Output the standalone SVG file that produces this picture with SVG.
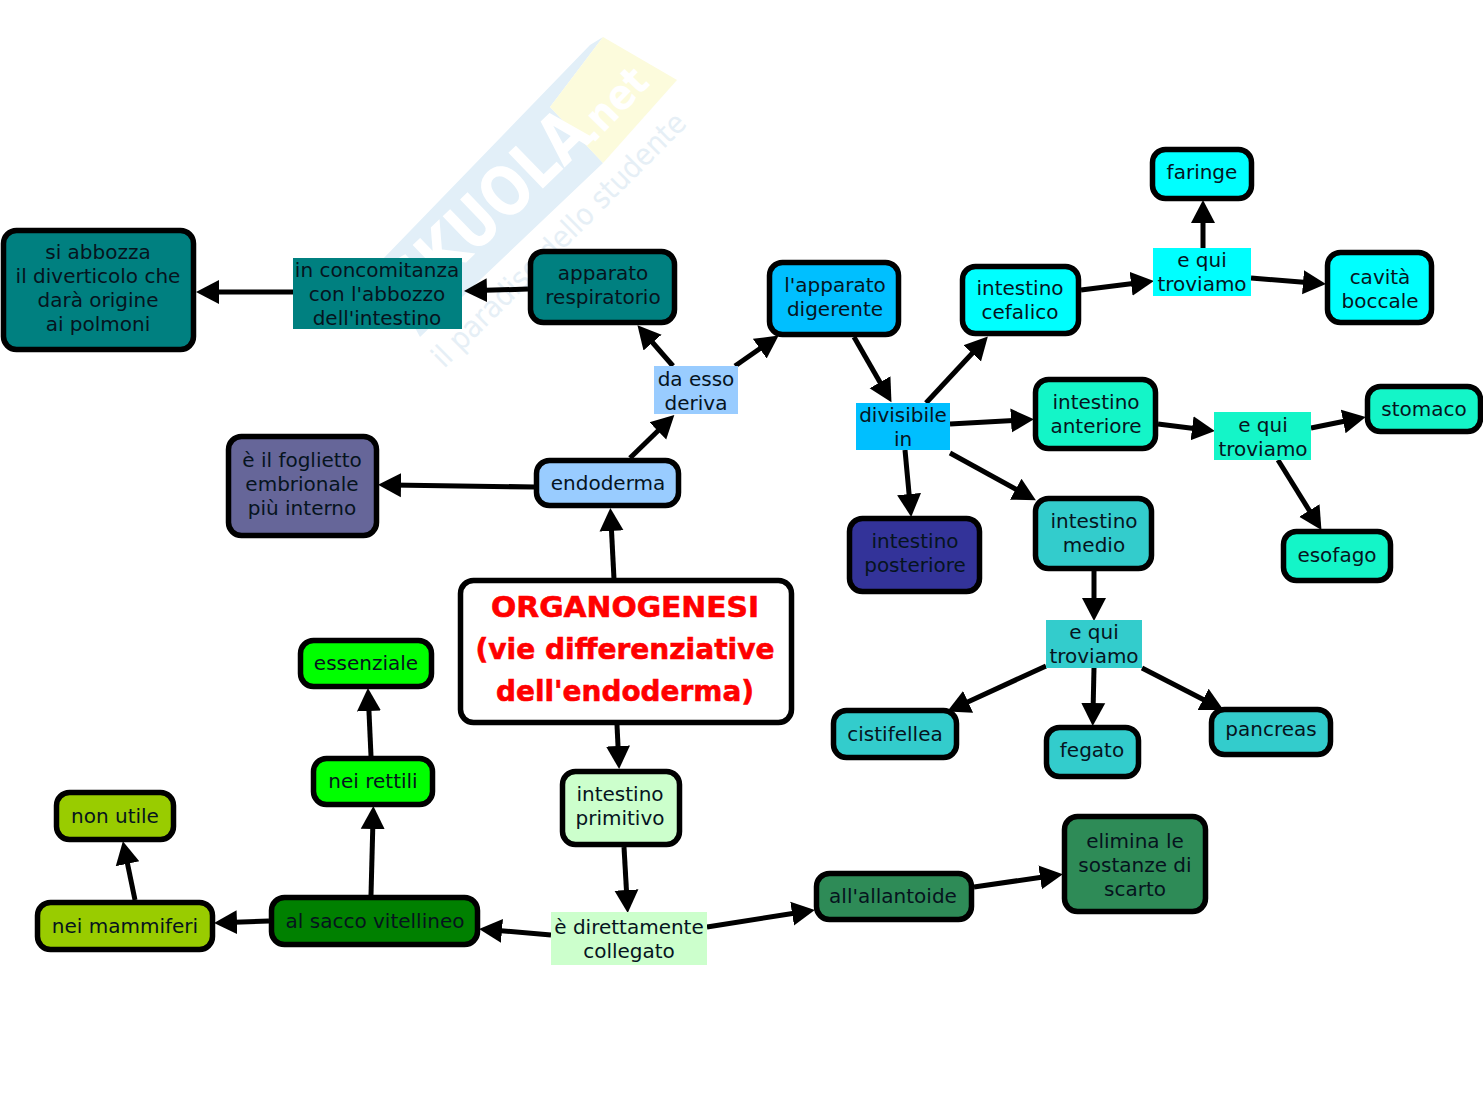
<svg xmlns="http://www.w3.org/2000/svg" width="1483" height="1116" viewBox="0 0 1483 1116">
<style>
.n{stroke:#000;stroke-width:5.5}
.l{stroke:none}
text{font-family:"DejaVu Sans","Liberation Sans",sans-serif;font-size:20px;fill:#06141e;text-anchor:middle}
.t{font-size:28px;font-weight:bold;fill:#f00;stroke:#f00;stroke-width:.6}
.c line{stroke:#000;stroke-width:5;marker-end:url(#a)}
.teal{fill:#008080}.deep{fill:#00bfff}.cy{fill:#0ff}.sb{fill:#9cf}.aq{fill:#14f5c8}.md{fill:#3cc}.pu{fill:#669}.nv{fill:#339;}.w{fill:#fff}.lg{fill:#0f0}.pg{fill:#cfc}.ol{fill:#9c0}.gr{fill:#008000}.sg{fill:#2e8b57}
</style>
<defs>
<marker id="a" markerUnits="userSpaceOnUse" markerWidth="26" markerHeight="28" refX="10" refY="13" orient="auto"><path d="M0 1L23 13L0 25Z" fill="#000"/></marker>
</defs>
<rect width="1483" height="1116" fill="#fff"/>
<g id="watermark">
<polygon points="380,262 590,45 603,37 550,107 603,163 420,337" fill="#e2eff8"/>
<polygon points="550,107 603,37 677,80 603,163" fill="#fcfbdc"/>
<text transform="translate(505,225) rotate(-44)" textLength="250" lengthAdjust="spacingAndGlyphs" style="font-size:68px;font-weight:bold;fill:#fff">SKUOLA</text>
<text transform="translate(622,114) rotate(-46)" textLength="84" lengthAdjust="spacingAndGlyphs" style="font-size:42px;font-weight:bold;fill:#fff">.net</text>
<text transform="translate(566,247) rotate(-45)" textLength="345" lengthAdjust="spacingAndGlyphs" style="font-size:30px;fill:#e6eff6">il paradiso dello studente</text>
</g>
<g id="connectors" class="c">
<line x1="293" y1="292" x2="209" y2="292"/>
<line x1="528" y1="289" x2="477" y2="290.6"/>
<line x1="673" y1="366" x2="646" y2="335"/>
<line x1="735" y1="366" x2="768" y2="343"/>
<line x1="630" y1="458" x2="665" y2="424"/>
<line x1="535" y1="487" x2="391" y2="485"/>
<line x1="614" y1="579" x2="611" y2="521"/>
<line x1="617" y1="725" x2="618.5" y2="756"/>
<line x1="624" y1="847" x2="627" y2="900"/>
<line x1="707" y1="927" x2="802" y2="912"/>
<line x1="974" y1="887" x2="1050" y2="876"/>
<line x1="551" y1="935" x2="492" y2="930"/>
<line x1="269" y1="921" x2="227" y2="922.5"/>
<line x1="371" y1="895" x2="373" y2="819"/>
<line x1="135" y1="900" x2="125.5" y2="854"/>
<line x1="371" y1="756" x2="368.5" y2="701"/>
<line x1="854" y1="337" x2="885" y2="391"/>
<line x1="926" y1="403" x2="979" y2="346"/>
<line x1="950" y1="424" x2="1021" y2="420"/>
<line x1="950" y1="453" x2="1024.5" y2="494"/>
<line x1="905" y1="450" x2="910" y2="504"/>
<line x1="1081" y1="290" x2="1141" y2="282.5"/>
<line x1="1203" y1="248" x2="1203" y2="213"/>
<line x1="1251" y1="278" x2="1313" y2="283"/>
<line x1="1158" y1="424" x2="1202" y2="429.5"/>
<line x1="1311" y1="428" x2="1353" y2="419.5"/>
<line x1="1278" y1="460" x2="1314.6" y2="519"/>
<line x1="1094" y1="571" x2="1094" y2="608"/>
<line x1="1046" y1="666" x2="959" y2="706"/>
<line x1="1094" y1="668" x2="1093" y2="713"/>
<line x1="1142" y1="668" x2="1212" y2="704"/>
</g>
<g id="n1"><rect class="n teal" x="3.5" y="230.5" width="190" height="119" rx="13"/><text x="98" y="259">si abbozza</text><text x="98" y="283">il diverticolo che</text><text x="98" y="307">darà origine</text><text x="98" y="331">ai polmoni</text></g>
<g id="n2"><rect class="l teal" x="293" y="258" width="169" height="71"/><text x="377" y="277">in concomitanza</text><text x="377" y="301">con l'abbozzo</text><text x="377" y="325">dell'intestino</text></g>
<g id="n3"><rect class="n teal" x="530.5" y="251.5" width="144" height="71" rx="13"/><text x="603" y="280">apparato</text><text x="603" y="304">respiratorio</text></g>
<g id="n4"><rect class="n deep" x="769.5" y="262.5" width="129" height="72" rx="13"/><text x="835" y="292">l'apparato</text><text x="835" y="316">digerente</text></g>
<g id="n5"><rect class="n cy" x="962.5" y="266.5" width="116" height="67" rx="13"/><text x="1020" y="295">intestino</text><text x="1020" y="319">cefalico</text></g>
<g id="n6"><rect class="l cy" x="1153" y="248" width="98" height="48"/><text x="1202" y="267">e qui</text><text x="1202" y="291">troviamo</text></g>
<g id="n7"><rect class="n cy" x="1152.5" y="149.5" width="99" height="49" rx="13"/><text x="1202" y="179">faringe</text></g>
<g id="n8"><rect class="n cy" x="1327.5" y="252.5" width="104" height="70" rx="13"/><text x="1380" y="284">cavità</text><text x="1380" y="308">boccale</text></g>
<g id="n9"><rect class="l sb" x="654" y="366" width="84" height="48"/><text x="696" y="386">da esso</text><text x="696" y="410">deriva</text></g>
<g id="n10"><rect class="l deep" x="856" y="403" width="94" height="47"/><text x="903" y="422">divisibile</text><text x="903" y="446">in</text></g>
<g id="n11"><rect class="n aq" x="1035.5" y="379.5" width="120" height="69" rx="13"/><text x="1096" y="409">intestino</text><text x="1096" y="433">anteriore</text></g>
<g id="n12"><rect class="l aq" x="1214" y="412" width="97" height="48"/><text x="1263" y="432">e qui</text><text x="1263" y="456">troviamo</text></g>
<g id="n13"><rect class="n aq" x="1367.5" y="386.5" width="113" height="45" rx="13"/><text x="1424" y="416">stomaco</text></g>
<g id="n14"><rect class="n aq" x="1283.5" y="531.5" width="107" height="49" rx="13"/><text x="1337" y="562">esofago</text></g>
<g id="n15"><rect class="n sb" x="536.5" y="460.5" width="142" height="45" rx="13"/><text x="608" y="490">endoderma</text></g>
<g id="n16"><rect class="n pu" x="228.5" y="436.5" width="148" height="99" rx="13"/><text x="302" y="467">è il foglietto</text><text x="302" y="491">embrionale</text><text x="302" y="515">più interno</text></g>
<g id="n17"><rect class="n nv" x="849.5" y="518.5" width="130" height="73" rx="13"/><text x="915" y="548">intestino</text><text x="915" y="572">posteriore</text></g>
<g id="n18"><rect class="n md" x="1035.5" y="498.5" width="116" height="70" rx="13"/><text x="1094" y="528">intestino</text><text x="1094" y="552">medio</text></g>
<g id="n19"><rect class="l md" x="1046" y="620" width="96" height="48"/><text x="1094" y="639">e qui</text><text x="1094" y="663">troviamo</text></g>
<g id="n20"><rect class="n md" x="833.5" y="710.5" width="123" height="47" rx="13"/><text x="895" y="741">cistifellea</text></g>
<g id="n21"><rect class="n md" x="1046.5" y="727.5" width="92" height="49" rx="13"/><text x="1092" y="757">fegato</text></g>
<g id="n22"><rect class="n md" x="1211.5" y="709.5" width="119" height="45" rx="13"/><text x="1271" y="736">pancreas</text></g>
<g id="n23"><rect class="n w" x="460.5" y="580.5" width="331" height="142" rx="13"/><text class="t" x="625" y="617" textLength="268" lengthAdjust="spacingAndGlyphs">ORGANOGENESI</text><text class="t" x="625" y="659" textLength="299" lengthAdjust="spacingAndGlyphs">(vie differenziative</text><text class="t" x="625" y="701" textLength="258" lengthAdjust="spacingAndGlyphs">dell'endoderma)</text></g>
<g id="n24"><rect class="n lg" x="300.5" y="640.5" width="131" height="46" rx="13"/><text x="366" y="670">essenziale</text></g>
<g id="n25"><rect class="n lg" x="313.5" y="758.5" width="119" height="46" rx="13"/><text x="373" y="788">nei rettili</text></g>
<g id="n26"><rect class="n pg" x="562.5" y="771.5" width="117" height="73" rx="13"/><text x="620" y="801">intestino</text><text x="620" y="825">primitivo</text></g>
<g id="n27"><rect class="n ol" x="56.5" y="792.5" width="117" height="47" rx="13"/><text x="115" y="823">non utile</text></g>
<g id="n28"><rect class="n ol" x="37.5" y="902.5" width="175" height="47" rx="13"/><text x="125" y="933">nei mammiferi</text></g>
<g id="n29"><rect class="n gr" x="271.5" y="897.5" width="206" height="47" rx="13"/><text x="375" y="928">al sacco vitellineo</text></g>
<g id="n30"><rect class="l pg" x="551" y="912" width="156" height="53"/><text x="629" y="934">è direttamente</text><text x="629" y="958">collegato</text></g>
<g id="n31"><rect class="n sg" x="816.5" y="873.5" width="155" height="46" rx="13"/><text x="893" y="903">all'allantoide</text></g>
<g id="n32"><rect class="n sg" x="1064.5" y="816.5" width="141" height="95" rx="13"/><text x="1135" y="848">elimina le</text><text x="1135" y="872">sostanze di</text><text x="1135" y="896">scarto</text></g>
</svg>
